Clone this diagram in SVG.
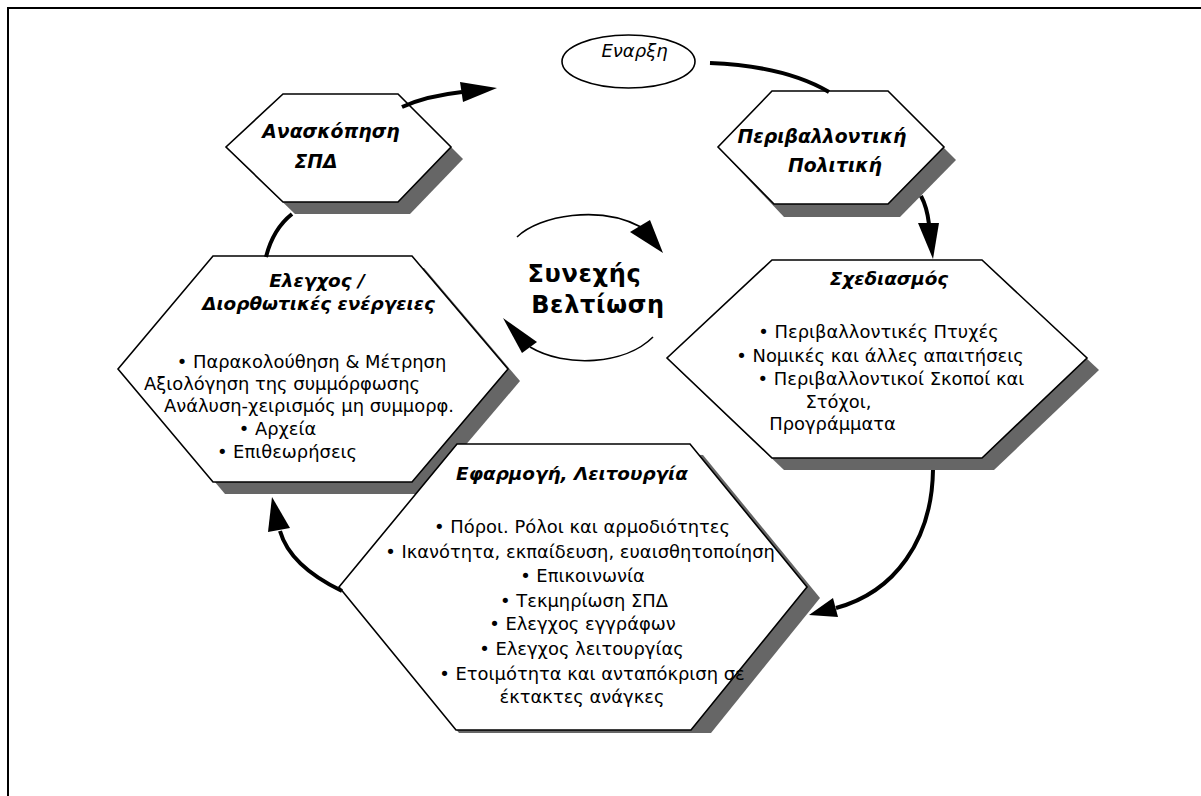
<svg xmlns="http://www.w3.org/2000/svg" width="1201" height="796" viewBox="0 0 1201 796">
<style>
.frame{fill:none;stroke:#000;stroke-width:2}
.hex{fill:#fff;stroke:#000;stroke-width:1.6;stroke-linejoin:miter}
.shadow{fill:#666;stroke:none}
.title{font-family:"DejaVu Sans",Verdana,sans-serif;font-weight:bold;font-style:italic;font-size:18.4px;fill:#000;text-anchor:middle}
.title.lg{font-size:18.8px}
.body{font-family:"DejaVu Sans",Verdana,sans-serif;font-size:17.9px;fill:#000;text-anchor:middle}
.start{font-family:"DejaVu Sans",Verdana,sans-serif;font-style:italic;font-size:18px;fill:#000;text-anchor:middle}
.big{font-family:"DejaVu Sans",Verdana,sans-serif;font-weight:bold;font-size:24px;letter-spacing:0.7px;fill:#000;text-anchor:middle}
.thick{fill:none;stroke:#000;stroke-width:4;stroke-linecap:butt}
.thin{fill:none;stroke:#000;stroke-width:1.6}
.head{fill:#000;stroke:none}
</style>
<rect width="1201" height="796" fill="#fff"/>
<path class="frame" d="M1201,8 L8,8 L8,796"/>

<g id="node-start">
<ellipse cx="628.5" cy="61.5" rx="66.5" ry="26.5" fill="#fff" stroke="#000" stroke-width="1.6"/>
<text class="start" x="634.5" y="57">Εναρξη</text>
</g>

<g id="node-review">
<polygon class="shadow" points="295,106 410,106 463,159 410,214 295,214 238,159"/>
<polygon class="hex" points="283,94 398,94 451,147 398,202 283,202 226,147"/>
<text class="title lg" x="331" y="138">Ανασκόπηση</text>
<text class="title lg" x="316" y="168">ΣΠΔ</text>
</g>

<g id="node-policy">
<polygon class="shadow" points="784,104 900,104 956,160 900,217 784,217 730,160"/>
<polygon class="hex" points="772,91 888,91 944,147 888,204 774,204 718,147"/>
<text class="title lg" x="822" y="143">Περιβαλλοντική</text>
<text class="title lg" x="835" y="172">Πολιτική</text>
</g>

<g id="node-check">
<polygon class="shadow" points="225,268 424,268 520,381 424,494 225,494 130,381"/>
<polygon class="hex" points="213,256 412,256 508,369 412,482 213,482 118,369"/>
<text class="title" x="317" y="287">Ελεγχος /</text>
<text class="title" x="318.5" y="310">Διορθωτικές ενέργειες</text>
<text class="body" x="311.5" y="368">• Παρακολούθηση &amp; Μέτρηση</text>
<text class="body" x="282" y="390">Αξιολόγηση της συμμόρφωσης</text>
<text class="body" x="309" y="412">Ανάλυση-χειρισμός μη συμμορφ.</text>
<text class="body" x="277.5" y="435">• Αρχεία</text>
<text class="body" x="287" y="458">• Επιθεωρήσεις</text>
</g>

<g id="node-planning">
<polygon class="shadow" points="784,272 994,272 1099,370 994,470 784,470 679,370"/>
<polygon class="hex" points="772,260 982,260 1087,358 982,458 772,458 667,358"/>
<text class="title" x="889" y="285">Σχεδιασμός</text>
<text class="body" x="878.5" y="338">• Περιβαλλοντικές Πτυχές</text>
<text class="body" x="880" y="362">• Νομικές και άλλες απαιτήσεις</text>
<text class="body" x="891" y="385">• Περιβαλλοντικοί Σκοποί και</text>
<text class="body" x="838.5" y="408">Στόχοι,</text>
<text class="body" x="832.5" y="430">Προγράμματα</text>
</g>

<g id="node-implementation">
<polygon class="shadow" points="457,444 703,455 820,598 711,733 459,733 339,587"/>
<polygon class="hex" points="457,444 690,444 807,587 691,730 456,730 339,587"/>
<text class="title" x="572" y="480">Εφαρμογή, Λειτουργία</text>
<text class="body" x="582" y="533">• Πόροι. Ρόλοι και αρμοδιότητες</text>
<text class="body" x="580" y="558">• Ικανότητα, εκπαίδευση, ευαισθητοποίηση</text>
<text class="body" x="582.5" y="582">• Επικοινωνία</text>
<text class="body" x="584" y="607">• Τεκμηρίωση ΣΠΔ</text>
<text class="body" x="582.5" y="630">• Ελεγχος εγγράφων</text>
<text class="body" x="581.5" y="655">• Ελεγχος λειτουργίας</text>
<text class="body" x="592" y="680">• Ετοιμότητα και ανταπόκριση σε</text>
<text class="body" x="582" y="703">έκτακτες ανάγκες</text>
</g>

<g id="node-improvement">
<text class="big" x="584.5" y="282">Συνεχής</text>
<text class="big" x="598" y="313">Βελτίωση</text>
</g>

<g id="connectors">
<path class="thick" d="M402,107 Q426,96 462,92"/>
<polygon class="head" points="460,82 497,88 463,102"/>
<path class="thick" d="M710,63 Q785,66 829,92"/>
<path class="thick" d="M921,196 Q927,207 929,224"/>
<polygon class="head" points="918,223 933,259 939,223"/>
<path class="thick" d="M933,470 C932,540 895,592 836,608"/>
<polygon class="head" points="833,598 809,615 838,617"/>
<path class="thick" d="M342,591 Q290,566 280,531"/>
<polygon class="head" points="268,532 272,497 290,528"/>
<path class="thick" d="M266,257 Q273,229 292,214"/>
<path class="thin" d="M517,237 C540,215 600,205 641,227"/>
<polygon class="head" points="630,232 650,220 663,253"/>
<path class="thin" d="M653,337 C625,365 565,368 530,347"/>
<polygon class="head" points="522,353 537,342 503,318"/>
</g>
</svg>
